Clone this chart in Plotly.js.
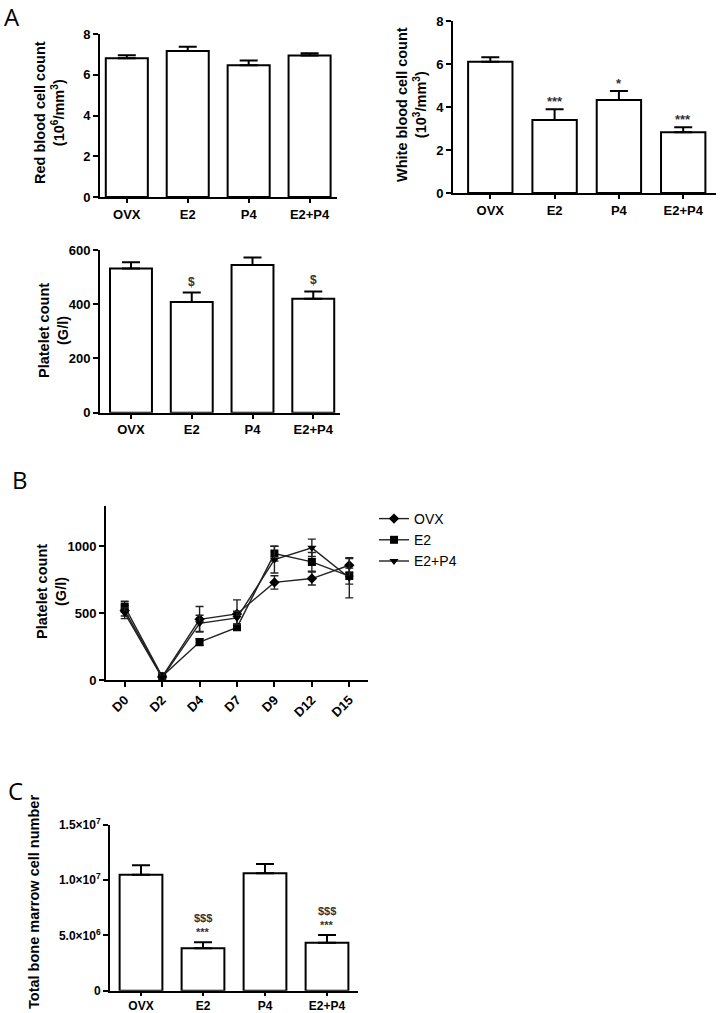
<!DOCTYPE html>
<html><head><meta charset="utf-8">
<script src="https://cdn.plot.ly/plotly-3.0.1.min.js"></script>
<style>html,body{margin:0;padding:0;background:#fff}#chart{width:722px;height:1013px}</style>
</head><body><div id="chart"></div>
<script>
// ---- data ----
const groups = ['OVX', 'E2', 'P4', 'E2+P4'];
const rbcMean = [6.81, 7.16, 6.47, 6.95];
const rbcSem = [0.15, 0.22, 0.23, 0.10];
const wbcMean = [6.10, 3.40, 4.32, 2.82];
const wbcSem = [0.21, 0.50, 0.42, 0.24];
const wbcMarks = ['', '***', '*', '***'];
const pltMean = [532, 408, 545, 420];
const pltSem = [23, 35, 27, 27];
const pltMarks = ['', '$', '', '$'];
const days = ['D0', 'D2', 'D4', 'D7', 'D9', 'D12', 'D15'];
const kinOVX = [520, 25, 455, 495, 730, 759, 858];
const kinOVXSem = [40, 10, 95, 105, 50, 48, 50];
const kinE2 = [550, 30, 285, 395, 945, 883, 777];
const kinE2Sem = [40, 10, 25, 20, 55, 70, 60];
const kinE2P4 = [500, 20, 425, 465, 900, 988, 765];
const kinE2P4Sem = [40, 10, 60, 50, 100, 65, 150];
const bmMean = [1.05e7, 3.84e6, 1.063e7, 4.35e6];
const bmSem = [0.085e7, 0.54e6, 0.084e7, 0.69e6];
const bmStars = ['', '***', '', '***'];
const bmDollars = ['', '$$$', '', '$$$'];
const bmTickVals = [0, 5e6, 1e7, 1.5e7];
const bmTickText = ['0', '5.0×10<sup>6</sup>', '1.0×10<sup>7</sup>', '1.5×10<sup>7</sup>'];

// ---- layout helpers ----
const W = 722, H = 1013;
const dx = (a, b) => [a / W, b / W];
const dy = (top, bottom) => [1 - bottom / H, 1 - top / H];
const FONT = 'Liberation Sans, Arial, sans-serif';
const tickFont = {family: FONT, size: 13, color: '#000', weight: 'bold'};
const axBase = {showline: true, linecolor: '#000', linewidth: 2, ticks: 'outside', ticklen: 5,
  tickwidth: 2, tickcolor: '#000', showgrid: false, zeroline: false, tickfont: tickFont, fixedrange: true};
const zeros = groups.map(() => 0);

function barTrace(y, sem, xa, ya) {
  return {type: 'bar', x: groups, y: y, xaxis: xa, yaxis: ya, width: 0.69, showlegend: false,
    marker: {color: '#fff', line: {color: '#000', width: 2}},
    error_y: {type: 'data', symmetric: false, array: sem, arrayminus: zeros, color: '#000', thickness: 2, width: 9},
    hoverinfo: 'skip'};
}
function lineTrace(name, y, sem, sym) {
  return {type: 'scatter', mode: 'lines+markers', name: name, x: days, y: y, xaxis: 'x4', yaxis: 'y4',
    line: {color: '#222', width: 1.4}, marker: {symbol: sym, size: 8, color: '#000'},
    error_y: {type: 'data', array: sem, color: '#222', thickness: 1.4, width: 4}};
}

const data = [
  barTrace(rbcMean, rbcSem, 'x', 'y'),
  barTrace(wbcMean, wbcSem, 'x2', 'y2'),
  barTrace(pltMean, pltSem, 'x3', 'y3'),
  lineTrace('OVX', kinOVX, kinOVXSem, 'diamond'),
  lineTrace('E2', kinE2, kinE2Sem, 'square'),
  lineTrace('E2+P4', kinE2P4, kinE2P4Sem, 'triangle-down'),
  barTrace(bmMean, bmSem, 'x5', 'y5')
];

const annotations = [];
function sigMarks(marks, mean, sem, xa, ya, shift, size) {
  marks.forEach((m, i) => {
    if (!m) return;
    annotations.push({xref: xa, yref: ya, x: groups[i], y: mean[i] + sem[i], text: m, showarrow: false,
      yanchor: 'bottom', yshift: shift, borderpad: 0,
      font: {family: FONT, size: size, color: '#333', weight: 'bold'}});
  });
}
sigMarks(wbcMarks, wbcMean, wbcSem, 'x2', 'y2', -1, 13);
sigMarks(pltMarks, pltMean, pltSem, 'x3', 'y3', 3, 12);
sigMarks(bmStars, bmMean, bmSem, 'x5', 'y5', 3, 11);
sigMarks(bmDollars, bmMean, bmSem, 'x5', 'y5', 17, 11);

function ytitle(text, cx, cy) {
  annotations.push({xref: 'paper', yref: 'paper', x: cx / W, y: 1 - cy / H, text: text, textangle: -90,
    showarrow: false, xanchor: 'center', yanchor: 'middle',
    font: {family: FONT, size: 14.5, color: '#000', weight: 'bold'}});
}
ytitle('Red blood cell count<br>(10<sup>6</sup>/mm<sup>3</sup>)', 49, 113);
ytitle('White blood cell count<br>(10<sup>3</sup>/mm<sup>3</sup>)', 411, 105);
ytitle('Platelet count<br>(G/l)', 54, 330);
ytitle('Platelet count<br>(G/l)', 51, 592);
ytitle('Total bone marrow cell number', 34, 902);

function panel(t, cx, cy) {
  annotations.push({xref: 'paper', yref: 'paper', x: cx / W, y: 1 - cy / H, text: t, showarrow: false,
    xanchor: 'center', yanchor: 'middle', font: {family: 'Open Sans, sans-serif', size: 24, color: '#000'}});
}
panel('A', 12, 16);
panel('B', 20, 479);
panel('C', 15, 790);

const layout = {
  width: W, height: H, margin: {l: 0, r: 0, t: 0, b: 0}, paper_bgcolor: '#fff', plot_bgcolor: 'rgba(0,0,0,0)',
  showlegend: true,
  legend: {x: 0.518, y: 1 - 503 / H, xanchor: 'left', yanchor: 'top', bgcolor: 'rgba(0,0,0,0)',
    font: {family: FONT, size: 14, color: '#000'}, itemwidth: 30},
  xaxis: Object.assign({}, axBase, {domain: dx(100, 337), range: [-0.44, 3.45], anchor: 'y', ticklen: 4}),
  yaxis: Object.assign({}, axBase, {domain: dy(34, 197), range: [0, 8], dtick: 2, anchor: 'x'}),
  xaxis2: Object.assign({}, axBase, {domain: dx(453, 716), range: [-0.58, 3.51], anchor: 'y2', ticklen: 4}),
  yaxis2: Object.assign({}, axBase, {domain: dy(21, 193), range: [0, 8], dtick: 2, anchor: 'x2'}),
  xaxis3: Object.assign({}, axBase, {domain: dx(100, 340), range: [-0.51, 3.44], anchor: 'y3', ticklen: 4}),
  yaxis3: Object.assign({}, axBase, {domain: dy(250, 412.7), range: [0, 600], dtick: 200, anchor: 'x3'}),
  xaxis4: Object.assign({}, axBase, {domain: dx(106, 368), range: [-0.5, 6.5], anchor: 'y4', tickangle: -45}),
  yaxis4: Object.assign({}, axBase, {domain: dy(506, 680.3), range: [0, 1300], tickvals: [0, 500, 1000], anchor: 'x4'}),
  xaxis5: Object.assign({}, axBase, {domain: dx(110, 358), range: [-0.5, 3.5], anchor: 'y5', ticklen: 3,
    tickfont: Object.assign({}, tickFont, {size: 12})}),
  yaxis5: Object.assign({}, axBase, {domain: dy(825, 990.7), range: [0, 1.5e7], tickvals: bmTickVals,
    ticktext: bmTickText, anchor: 'x5', tickfont: Object.assign({}, tickFont, {size: 12})}),
  annotations: annotations
};

Plotly.newPlot('chart', data, layout, {staticPlot: true, displayModeBar: false});
</script>
</body></html>
